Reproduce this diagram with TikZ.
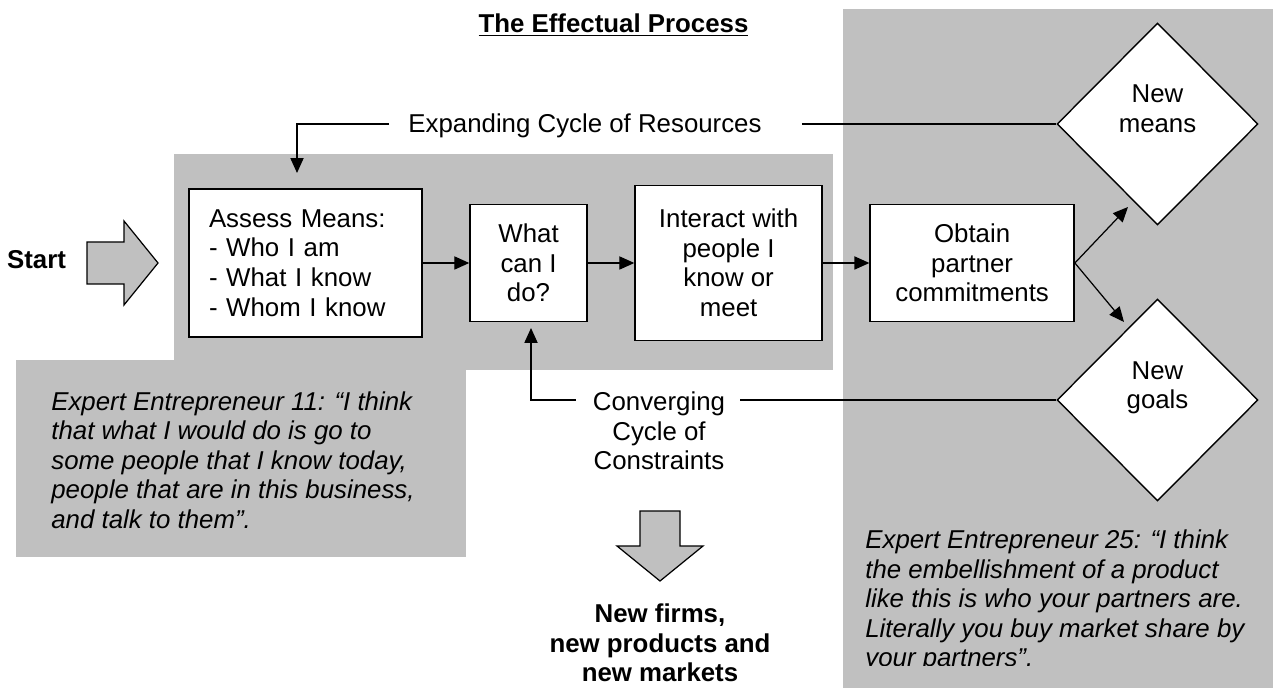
\documentclass[tikz,border=0pt]{standalone}
\usepackage{fontspec}
\setmainfont{Liberation Sans}
\usepackage{tikz}
\usetikzlibrary{arrows.meta,calc,positioning,shapes.geometric}
\definecolor{gris}{HTML}{C0C0C0}

\begin{document}
\begin{tikzpicture}[x=0.02cm, y=-0.02cm, >={Triangle[length=8.5pt,width=7.5pt]},
      node distance=0.93cm,
      every node/.style={font=\fontsize{14.7}{16.8}\selectfont, inner sep=0pt},
      negrita/.style={font=\fontsize{14.7}{16.8}\selectfont\bfseries},
      caja/.style={draw, line width=0.9pt, fill=white, align=center},
      rombo/.style={draw, line width=0.8pt, fill=white, diamond, aspect=1,
                    minimum width=4.02cm, minimum height=4.04cm},
      conector/.style={line width=0.7pt},
      bloque/.style={draw, line width=0.7pt, fill=gris, line join=miter},
      cita/.style={anchor=west, align=left, font=\fontsize{14.7}{16.8}\selectfont\itshape}]
    \useasboundingbox (0,0) rectangle (1273,688);
    % fondos grises
    \fill[gris] (843,9) rectangle (1273,688);
    \fill[gris] (174,154) rectangle (833,370);
    \fill[gris] (16,360) rectangle (466,557);

    \node[negrita, anchor=base] (titulo) at (613.5,33) {\underline{The Effectual Process}};

    \node[negrita] (start) at (36.5,260) {Start};
    \draw[bloque] (87,242) -- (124,242) -- (124,221) -- (158,263) -- (124,305) -- (124,284) -- (87,284) -- cycle;

    \node[caja, align=left, text width=3.86cm, inner xsep=0.4cm, minimum height=2.96cm] (assess) at (305.5,263) {Assess Means:\\- Who I am\\- What I know\\- Whom I know};
    \node[caja, minimum width=2.34cm, minimum height=2.34cm, right=of assess] (what) {What\\can I\\do?};
    \node[caja, minimum width=3.74cm, minimum height=3.10cm, right=of what] (interact) {Interact with\\people I\\know or\\meet};
    \node[caja, minimum width=4.08cm, minimum height=2.34cm, right=of interact] (obtain) {Obtain\\partner\\commitments};

    \node[rombo] (newmeans) at (1157.5,124) {};
    \node[align=center] (meanstxt) at (1157.5,109) {New\\means};
    \node[rombo] (newgoals) at (1157.5,400) {};
    \node[align=center] (goalstxt) at (1157.5,388) {New\\goals};

    \node (expanding) at (585,126) {Expanding Cycle of Resources};
    \node[align=center] (converging) at (659,431) {Converging\\Cycle of\\Constraints};

    \coordinate (expandtip) at (297,173);
    \coordinate (convtip) at (531,328);
    \coordinate (meanstip) at (1128,207);
    \coordinate (goalstip) at (1124,322);

    \draw[conector, ->, shorten <=0.38cm] (expanding.west |- newmeans.west) -| (expandtip);
    \draw[conector, shorten <=0.8cm] (expanding.east |- newmeans.west) -- (newmeans.west);
    \draw[conector, ->, shorten <=0.34cm] (converging.west |- newgoals.west) -| (convtip);
    \draw[conector, shorten <=0.3cm] (converging.east |- newgoals.west) -- (newgoals.west);

    \draw[conector, ->] (assess) -- (what);
    \draw[conector, ->] (what) -- (interact);
    \draw[conector, ->] (interact) -- (obtain);
    \draw[conector, ->] (obtain.east) -- (meanstip);
    \draw[conector, ->] (obtain.east) -- (goalstip);

    \node[cita] (cita11) at (51,460) {Expert Entrepreneur 11: “I think\\that what I would do is go to\\some people that I know today,\\people that are in this business,\\and talk to them”.};
    \begin{scope}
      \clip (843,9) rectangle (1273,665);
      \node[cita] (cita25) at (865,601) {Expert Entrepreneur 25: “I think\\the embellishment of a product\\like this is who your partners are.\\Literally you buy market share by\\your partners”.};
    \end{scope}

    \draw[bloque] (640,511) -- (680,511) -- (680,546) -- (703,546) -- (660,581) -- (617,546) -- (640,546) -- cycle;
    \node[negrita, align=center] (resultado) at (660,643) {New firms,\\new products and\\new markets};
  \end{tikzpicture}
\end{document}
